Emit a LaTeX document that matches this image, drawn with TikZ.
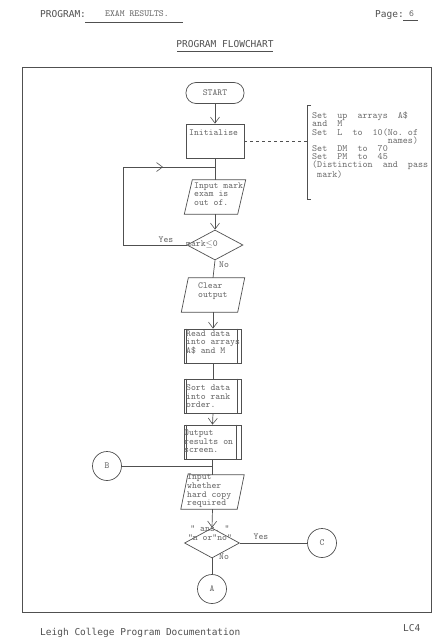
\documentclass[tikz,border=0pt]{standalone}
\usepackage{fontspec}
\newfontfamily\hdr{DejaVu Sans Mono}
\usetikzlibrary{arrows.meta,shapes.geometric}
\definecolor{ink}{HTML}{505050}
\definecolor{tw}{HTML}{6A6A6A}
\begin{document}
\begin{tikzpicture}[x=1pt,y=-1pt,
  line/.style={draw=ink, line width=0.7pt},
  arr/.style={line, -{Straight Barb[length=6pt,width=9pt,line width=0.6pt]}},
  tt/.style={font=\ttfamily\fontsize{9.3}{8.6}\selectfont, text=tw, align=left, inner sep=0pt},
  notetxt/.style={font=\ttfamily\fontsize{9.6}{8.1}\selectfont, text=tw, align=left, inner sep=0pt},
  hd/.style={font=\hdr\fontsize{9.5}{10}\selectfont, text=ink, inner sep=0pt},
  procbox/.style={line, rectangle, minimum width=57pt, minimum height=34pt, inner sep=0pt},
  paraholder/.style={minimum width=54pt, minimum height=34pt, inner sep=0pt},
  decision/.style={line, diamond, inner sep=0pt},
  conn/.style={line, circle, minimum size=29pt, inner sep=0pt, tt},
]
\fill[white] (0,0) rectangle (438,640);
\useasboundingbox (0,0) rectangle (438,640);

% header
\node[hd, anchor=base west] (prog) at (40,17.5) {PROGRAM:};
\node[tt, anchor=base west] (title) at (105,16) {EXAM RESULTS.};
\draw[line, line width=0.5pt] (85,22) -- (183,22);
\node[hd, anchor=base west] (page) at (375,17.5) {Page:};
\node[tt, anchor=base west] (pnum) at (409,16) {6};
\draw[line, line width=0.5pt] (403,20) -- (418,20);
\node[hd, anchor=base] (fc) at (225,47.5) {PROGRAM FLOWCHART};
\draw[line, line width=0.5pt] (177,51) -- (273,51);

% frame
\draw[line, line width=0.9pt] (22,67) rectangle (431,612);

% footer
\node[hd, anchor=base west] (foot) at (40,635) {Leigh College Program Documentation};
\node[hd, anchor=base west] (lc) at (403,631) {LC4};

% START
\node[line, rectangle, rounded corners=10pt, minimum width=58pt, minimum height=21pt, inner sep=0pt, tt] (start) at (215,93) {START};

% Initialise
\node[procbox, minimum width=58pt] (init) at (215,141) {};
\node[tt, anchor=north west] (initt) at (189,129.5) {Initialise};
\draw[arr] (start) -- (init);

% annotation
\coordinate (brk) at (307,141);
\draw[line, dashed, line width=0.5pt] (init.east) -- (brk);
\draw[line] (311,105) -- (307,105) -- (307,199) -- (311,199);
\node[notetxt, anchor=north west] (note) at (312,112) {Set\ \ up\ \ arrays\ \ A\$\\and\ \ M\\Set\ \ L\ \ to\ \ 10(No.\ of\\\hphantom{XXXXXXXXXXXXXXX}names)\\Set\ \ DM\ \ to\ \ 70\\Set\ \ PM\ \ to\ \ 45\\(Distinction\ \ and\ \ pass\\\ mark)};

% Input mark
\node[paraholder, minimum width=53pt] (inp) at (215,197) {};
\draw[line] ([xshift=4]inp.north west) -- ([xshift=4]inp.north east) -- ([xshift=-4]inp.south east) -- ([xshift=-4]inp.south west) -- cycle;
\node[tt, anchor=north west] (inpt) at (194,182.5) {Input mark\\exam is\\out of.};
\coordinate (j1) at (215,167);
\draw[line] (init.south) -- (inp.north);

% decision 1
\node[decision, minimum width=56pt, minimum height=30pt] (d1) at (215,245) {};
\node[tt] (d1t) at (202,244) {mark$\leq$0};
\draw[arr] (inp.south) -- (d1.north);
\coordinate (lp) at (123,167);
\draw[line] (d1.west) -| (lp) -- (j1);
\draw[arr] (lp) -- (163,167);
\node[tt] (yes1) at (166,240) {Yes};
\node[tt] (no1) at (224,265) {No};

% Clear output
\node[paraholder, minimum width=56pt] (clr) at (213,295) {};
\draw[line] ([xshift=3.5]clr.north west) -- ([xshift=3.5]clr.north east) -- ([xshift=-3.5]clr.south east) -- ([xshift=-3.5]clr.south west) -- cycle;
\node[tt, anchor=north west] (clrt) at (198,283) {Clear\\output};
\draw[line] (d1.south) -- (clr.north);

% Read data
\node[procbox] (rd) at (213,346) {};
\draw[line] ([xshift=2.5]rd.north west) -- ([xshift=2.5]rd.south west);
\draw[line] ([xshift=-5]rd.north east) -- ([xshift=-5]rd.south east);
\node[tt, anchor=north west] (rdt) at (186,330.5) {Read data\\into arrays\\A\$ and M};
\draw[arr] (clr.south) -- (rd.north);

% Sort data
\node[procbox] (sd) at (213,396) {};
\draw[line] ([xshift=2.5]sd.north west) -- ([xshift=2.5]sd.south west);
\draw[line] ([xshift=-5]sd.north east) -- ([xshift=-5]sd.south east);
\node[tt, anchor=north west] (sdt) at (186,384.5) {Sort data\\into rank\\order.};
\draw[line] (rd.south) -- (sd.north);

% Output results
\node[procbox] (out) at (212.5,442) {};
\draw[line] ([xshift=2.5]out.north west) -- ([xshift=2.5]out.south west);
\draw[line] ([xshift=-5]out.north east) -- ([xshift=-5]out.south east);
\node[tt, anchor=north west] (outt) at (184,429.5) {Output\\results on\\screen.};
\draw[arr] (sd.south) -- (out.north);

% B connector
\node[conn] (B) at (107,466) {B};
\coordinate (j2) at (212.5,466);
\draw[line] (B.east) -- (j2);

% Input whether
\node[paraholder, minimum width=56pt] (inw) at (212.5,492) {};
\draw[line] ([xshift=3.5]inw.north west) -- ([xshift=3.5]inw.north east) -- ([xshift=-3.5]inw.south east) -- ([xshift=-3.5]inw.south west) -- cycle;
\node[tt, anchor=north west] (inwt) at (187,474) {Input\\whether\\hard copy\\required};
\draw[line] (out.south) -- (inw.north);

% decision 2
\node[decision, minimum width=55pt, minimum height=30pt] (d2) at (212,543) {};
\node[tt, align=center] (d2t) at (210,533) {"\ ans.\ "\\"n or"no"};
\draw[arr] (inw.south) -- (d2.north);
\node[tt] (yes2) at (261,537) {Yes};
\node[tt] (no2) at (224,557) {No};

% C and A
\node[conn] (C) at (322,543) {C};
\draw[line] (d2.east) -- (C.west);
\node[conn] (A) at (212,589) {A};
\draw[line] (d2.south) -- (A.north);

\end{tikzpicture}
\end{document}
